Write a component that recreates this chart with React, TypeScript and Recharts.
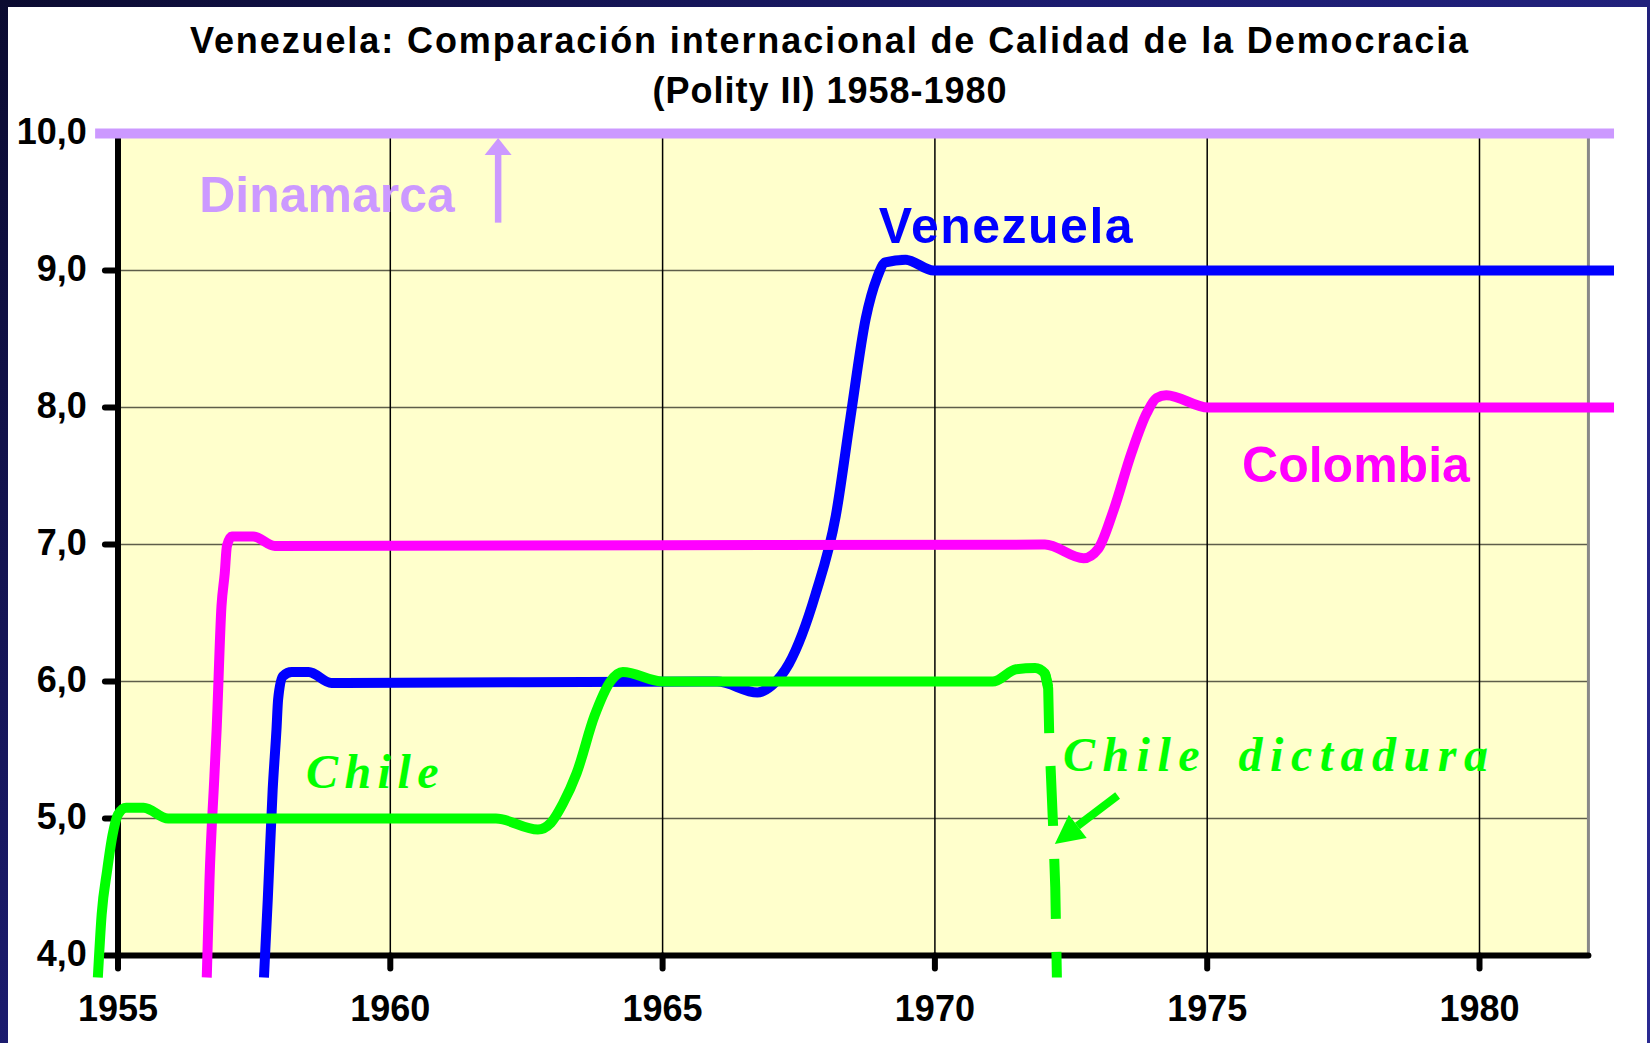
import React from "react";
import { LineChart, Line, XAxis, YAxis, ReferenceLine, ReferenceArea, ReferenceDot } from "recharts";

// values (x = year, y = Polity score)
const denmarkYears = [1954.58, 1982.47];
const denmarkValues = [10, 10];

const venezuelaYears = [1957.68, 1957.75, 1957.84, 1957.91, 1957.94, 1958.03, 1958.19, 1958.5, 1958.92, 1966.0, 1966.74, 1967.0, 1967.32, 1967.81, 1968.18, 1968.45, 1968.73, 1968.94, 1969.09, 1969.46, 1969.98, 1982.47];
const venezuelaValues = [3.84, 4.41, 5.21, 5.65, 5.87, 6.04, 6.07, 6.07, 5.99, 6.0, 5.92, 5.97, 6.13, 6.64, 7.21, 7.93, 8.65, 8.95, 9.06, 9.08, 9.0, 9.0];

const colombiaYears = [1956.63, 1956.68, 1956.77, 1956.81, 1956.9, 1956.96, 1957.0, 1957.09, 1957.48, 1957.88, 1972.02, 1972.73, 1973.0, 1973.28, 1973.61, 1973.89, 1974.07, 1974.25, 1975.02, 1982.47];
const colombiaValues = [3.84, 4.55, 5.31, 5.64, 6.55, 6.79, 6.99, 7.06, 7.06, 6.99, 7.0, 6.9, 6.97, 7.25, 7.67, 7.96, 8.07, 8.09, 8.0, 8.0];

const chileYears = [1954.63, 1954.7, 1954.8, 1954.9, 1955.0, 1955.15, 1955.47, 1955.92, 1961.94, 1962.71, 1962.95, 1963.17, 1963.42, 1963.75, 1964.04, 1964.27, 1965.0, 1971.06, 1971.49, 1971.84, 1972.02, 1972.08];
const chileValues = [3.84, 4.3, 4.62, 4.88, 5.03, 5.08, 5.08, 5.0, 5.0, 4.92, 4.97, 5.11, 5.33, 5.75, 6.0, 6.07, 6.0, 6.0, 6.09, 6.1, 6.06, 5.96];

const dictaduraYears = [1972.02, 1972.08, 1972.1, 1972.17, 1972.21, 1972.24];
const dictaduraValues = [6.06, 5.95, 5.6, 4.95, 4.5, 3.84];

const xTicks = [1955, 1960, 1965, 1970, 1975, 1980];
const yTicks = [4, 5, 6, 7, 8, 9, 10];
const gridYears = [1960, 1965, 1970, 1975, 1980];
const gridValues = [5, 6, 7, 8, 9];

const X_START = 1955;
const X_END = 1982;
const Y_MIN = 4;
const Y_MAX = 10;

const toPoints = (xs: number[], ys: number[]) => xs.map((x, i) => ({ x, y: ys[i] }));

const SANS = "'Liberation Sans', Arial, sans-serif";
const SERIF = "'Liberation Serif', 'Times New Roman', serif";

function XTick({ x, y, payload }: any) {
  return (
    <text x={x} y={y} dy={38} textAnchor="middle" fontFamily={SANS} fontWeight="bold" fontSize={36} fill="#000">
      {payload.value}
    </text>
  );
}

function YTick({ x, y, payload }: any) {
  return (
    <text x={x} y={y} dy={10} textAnchor="end" fontFamily={SANS} fontWeight="bold" fontSize={36} fill="#000">
      {Number(payload.value).toFixed(1).replace(".", ",")}
    </text>
  );
}

const textShape = (label: string, style: any) => (props: any) => (
  <text x={props.cx} y={props.cy} {...style}>{label}</text>
);

const arrowHead = (angle: number, len: number, half: number, color: string) => (props: any) => (
  <polygon
    points={`0,0 ${-len},${-half} ${-len},${half}`}
    transform={`translate(${props.cx},${props.cy}) rotate(${angle})`}
    fill={color}
  />
);

export default function App() {
  return (
    <div
      style={{
        position: "absolute",
        left: 0,
        top: 0,
        width: 1650,
        height: 1043,
        overflow: "hidden",
        background: "linear-gradient(135deg, #0b0b30 0%, #1c1c70 40%, #2a2a92 100%)",
      }}
    >
      <div style={{ position: "absolute", left: 8, top: 7, width: 1639, height: 1036, background: "#fff" }} />
      <div
        style={{
          position: "absolute",
          left: 10,
          top: 16,
          width: 1640,
          textAlign: "center",
          fontFamily: SANS,
          fontWeight: "bold",
          fontSize: 36,
          lineHeight: "50px",
          color: "#000",
        }}
      >
        <div style={{ letterSpacing: 1.9 }}>Venezuela: Comparación internacional de Calidad de la Democracia</div>
        <div style={{ letterSpacing: 1 }}>(Polity II) 1958-1980</div>
      </div>
      <div style={{ position: "absolute", left: 0, top: 0 }}>
        <LineChart width={1650} height={1043} margin={{ top: 119.9, right: 34.35, bottom: 0, left: 0 }}>
          <XAxis
            type="number"
            dataKey="x"
            domain={[1954.5, 1982.5]}
            ticks={xTicks}
            interval={0}
            height={60}
            axisLine={false}
            tickLine={false}
            tickSize={0}
            tickMargin={0}
            tick={<XTick />}
          />
          <YAxis
            type="number"
            domain={[3.8, 10.1]}
            ticks={yTicks}
            interval={0}
            width={90.77}
            axisLine={false}
            tickLine={false}
            tickSize={0}
            tickMargin={4}
            tick={<YTick />}
          />
          <ReferenceArea x1={X_START} x2={X_END} y1={Y_MIN} y2={Y_MAX} fill="#FFFFCC" fillOpacity={1} stroke="none" />
          {gridValues.map((v) => (
            <ReferenceLine key={"h" + v} segment={[{ x: X_START, y: v }, { x: X_END, y: v }]} stroke="#5e5e4a" strokeWidth={1.5} />
          ))}
          {gridYears.map((yr) => (
            <ReferenceLine key={"v" + yr} segment={[{ x: yr, y: Y_MIN }, { x: yr, y: Y_MAX }]} stroke="#000" strokeWidth={1.5} />
          ))}
          <ReferenceLine segment={[{ x: X_END, y: Y_MIN }, { x: X_END, y: Y_MAX }]} stroke="#888" strokeWidth={3} />
          {yTicks.map((v) => (
            <ReferenceLine key={"yt" + v} segment={[{ x: 1954.76, y: v }, { x: X_START, y: v }]} stroke="#000" strokeWidth={6} strokeLinecap="round" />
          ))}
          {xTicks.map((yr) => (
            <ReferenceLine key={"xt" + yr} segment={[{ x: yr, y: Y_MIN }, { x: yr, y: 3.905 }]} stroke="#000" strokeWidth={6} strokeLinecap="round" />
          ))}
          <ReferenceLine segment={[{ x: X_START, y: Y_MIN }, { x: X_END, y: Y_MIN }]} stroke="#000" strokeWidth={6} strokeLinecap="round" />
          <ReferenceLine segment={[{ x: X_START, y: Y_MIN }, { x: X_START, y: Y_MAX }]} stroke="#000" strokeWidth={6} />

          <Line data={toPoints(denmarkYears, denmarkValues)} dataKey="y" type="linear" stroke="#CC99FF" strokeWidth={10} dot={false} activeDot={false} isAnimationActive={false} />
          <Line data={toPoints(venezuelaYears, venezuelaValues)} dataKey="y" type="monotone" stroke="#0000FF" strokeWidth={10} dot={false} activeDot={false} isAnimationActive={false} />
          <Line data={toPoints(colombiaYears, colombiaValues)} dataKey="y" type="monotone" stroke="#FF00FF" strokeWidth={10} dot={false} activeDot={false} isAnimationActive={false} />
          <Line data={toPoints(chileYears, chileValues)} dataKey="y" type="monotone" stroke="#00FF00" strokeWidth={10} dot={false} activeDot={false} isAnimationActive={false} />
          <Line data={toPoints(dictaduraYears, dictaduraValues)} dataKey="y" type="linear" stroke="#00FF00" strokeWidth={10} strokeDasharray="60 33" dot={false} activeDot={false} isAnimationActive={false} />

          <ReferenceLine segment={[{ x: 1961.98, y: 9.35 }, { x: 1961.98, y: 9.86 }]} stroke="#CC99FF" strokeWidth={6.5} />
          <ReferenceDot x={1961.98} y={9.968} ifOverflow="visible" shape={arrowHead(-90, 17, 13.5, "#CC99FF")} />
          <ReferenceLine segment={[{ x: 1973.355, y: 5.169 }, { x: 1972.617, y: 4.946 }]} stroke="#00FF00" strokeWidth={8} />
          <ReferenceDot x={1972.202} y={4.814} ifOverflow="visible" shape={arrowHead(142.3, 29, 14.6, "#00FF00")} />

          <ReferenceDot x={1956.49} y={9.43} ifOverflow="visible" shape={textShape("Dinamarca", { fontFamily: SANS, fontWeight: "bold", fontSize: 50, fill: "#CC99FF" })} />
          <ReferenceDot x={1968.97} y={9.2} ifOverflow="visible" shape={textShape("Venezuela", { fontFamily: SANS, fontWeight: "bold", fontSize: 50, letterSpacing: 1.5, fill: "#0000FF" })} />
          <ReferenceDot x={1975.64} y={7.46} ifOverflow="visible" shape={textShape("Colombia", { fontFamily: SANS, fontWeight: "bold", fontSize: 50, fill: "#FF00FF" })} />
          <ReferenceDot x={1958.45} y={5.22} ifOverflow="visible" shape={textShape("Chile", { fontFamily: SERIF, fontWeight: "bold", fontStyle: "italic", fontSize: 48, letterSpacing: 6.5, fill: "#00FF00" })} />
          <ReferenceDot x={1972.35} y={5.35} ifOverflow="visible" shape={textShape("Chile dictadura", { fontFamily: SERIF, fontWeight: "bold", fontStyle: "italic", fontSize: 48, letterSpacing: 7.5, wordSpacing: 12, fill: "#00FF00" })} />
        </LineChart>
      </div>
    </div>
  );
}
